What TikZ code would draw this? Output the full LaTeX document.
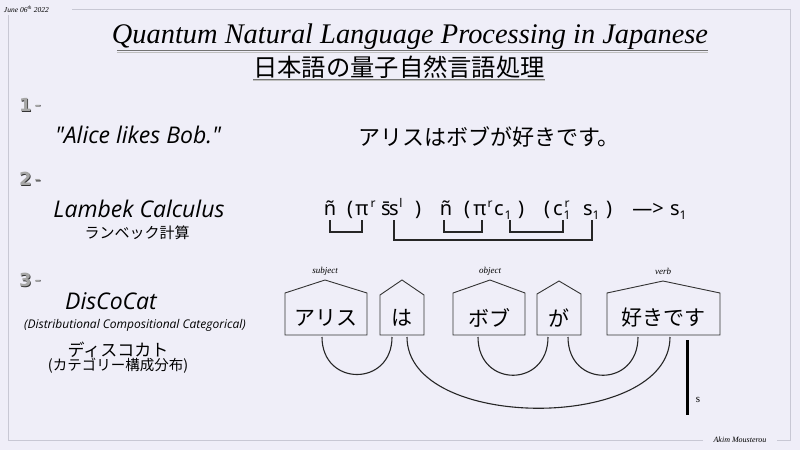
\documentclass[tikz,border=0pt]{standalone}
\usepackage{fontspec}
\setmainfont{Liberation Serif}
\newfontfamily\uifont{Open Sans}
\newfontfamily\jpfont{Noto Sans CJK JP}
\newfontfamily\mathsans{Noto Sans}
\newfontfamily\numfont{DejaVu Sans}
\definecolor{bg}{RGB}{239,238,248}
\definecolor{framec}{RGB}{200,200,212}
\newcommand{\fs}[1]{\fontsize{#1}{#1}\selectfont}
\tikzset{
  lbl/.style={inner sep=0pt, outer sep=0pt},
  numlbl/.style={lbl, font=\numfont\bfseries\fs{18}},
  engit/.style={lbl, font=\uifont\itshape\fs{23}},
  jptext/.style={lbl, font=\jpfont\fs{21}},
  sym/.style={lbl, anchor=base, font=\mathsans\fs{20}},
  supsym/.style={lbl, anchor=base, font=\mathsans\fs{12}},
  bracket/.style={line width=1.4pt, black!85},
  house/.style={draw=black!80, line width=0.9pt, fill=bg, line join=miter},
  wire/.style={draw=black!85, line width=1.1pt},
  tag/.style={lbl, font=\itshape\fs{9}},
}
\begin{document}
\begin{tikzpicture}[x=1pt,y=-1pt]
\fill[bg] (0,0) rectangle (800,450);
\useasboundingbox (0,0) rectangle (800,450);
% frame
\draw[framec, line width=0.8pt] (72,9) -- (790,9) -- (790,440) -- (777,440);
\draw[framec, line width=0.8pt] (703,440) -- (8,440) -- (8,15);
\node[lbl, anchor=west, font=\itshape\fs{7.5}] (date) at (4,9) {June 06\textsuperscript{th} 2022};
\node[lbl, font=\itshape\fs{8}] (author) at (740,440) {Akim Mousterou};
% titles
\node[lbl, font=\itshape\fs{28.4}] (title) at (410,37) {Quantum Natural Language Processing in Japanese};
\draw[black!55, line width=0.9pt] ([yshift=-1pt]title.south west) ++(5,0) -- ([yshift=-1pt]title.south east);
\draw[black!25, line width=0.9pt] ([yshift=-2.2pt]title.south west) ++(5,0) -- ([yshift=-2.2pt]title.south east);
\node[lbl, font=\jpfont\fs{24.3}] (jtitle) at (399,67) {日本語の量子自然言語処理};
\draw[black!55, line width=0.9pt] ([yshift=-1pt]jtitle.south west) -- ([yshift=-1pt]jtitle.south east);
\draw[black!25, line width=0.9pt] ([yshift=-2.2pt]jtitle.south west) -- ([yshift=-2.2pt]jtitle.south east);
% section numbers
\foreach \n/\yy in {1/105, 2/179, 3/280}{
  \node[numlbl, text=black!80, anchor=west] at (19.8,\yy+0.8) {\n\,\raisebox{0.25ex}{\fs{12}–}};
  \node[numlbl, text=black!35, anchor=west] (num\n) at (19,\yy) {\n\,\raisebox{0.25ex}{\fs{12}–}};
}
% section 1
\node[engit] (alice) at (138,135) {"Alice likes Bob."};
\node[jptext, font=\jpfont\fs{22}] (jsent) at (489,137) {アリスはボブが好きです。};
% section 2
\node[engit] (lambek) at (139,209) {Lambek Calculus};
\node[lbl, font=\jpfont\fs{15}] (lambekjp) at (137,233) {ランベック計算};
% formula
\node[sym] (n1) at (330,215) {ñ};
\node[sym] at (350,215) {(};
\node[sym] (pi1) at (362,215) {π};
\node[supsym] at (373,207) {r};
\node[sym] (sb) at (386,215) {s\char"0304};
\node[sym] (s2) at (394,215) {s};
\node[supsym] at (401,207) {l};
\node[sym] at (418,215) {)};
\node[sym] (n2) at (446,215) {ñ};
\node[sym] at (467,215) {(};
\node[sym] (pi2) at (480,215) {π};
\node[supsym] at (490,207) {r};
\node[sym] (c1) at (499,215) {c};
\node[supsym] (c1i) at (508,219) {1};
\node[sym] at (521,215) {)};
\node[sym] at (547,215) {(};
\node[sym] (c2) at (558,215) {c};
\node[supsym] at (567,207) {r};
\node[supsym] (c2i) at (567,219) {1};
\node[sym] (s3) at (588,215) {s};
\node[supsym] (s3i) at (596,219) {1};
\node[sym] at (609,215) {)};
\node[sym] (arrow) at (648,215) {—>};
\node[sym] (sout) at (675,215) {s};
\node[supsym] at (683,219) {1};
% brackets
\draw[bracket] (n1.base) ++(0,5) -- ++(0,12) -| ([yshift=-5pt]pi1.base);
\draw[bracket] (s2.base) ++(0,5) -- ++(0,20) -| ([yshift=-5pt,xshift=4pt]s3.base);
\draw[bracket] ([xshift=-2pt]n2.base) ++(0,5) -- ++(0,12) -| ([yshift=-5pt,xshift=2pt]pi2.base);
\draw[bracket] ([xshift=2pt]c1i.base) ++(0,1) -- ++(0,12) -| ([yshift=-5pt,xshift=5pt]c2.base);
% section 3
\node[engit] (disco) at (111,301) {DisCoCat};
\node[lbl, font=\uifont\itshape\fs{12}] (discofull) at (135,325) {(Distributional Compositional Categorical)};
\node[lbl, font=\jpfont\fs{17}] (discojp) at (118,350) {ディスコカト};
\node[lbl, font=\jpfont\fs{14.5}] (discojp2) at (118,366) {(カテゴリー構成分布)};
% boxes
\draw[house] (285,335) -- (285,293) -- (325,280) -- (367,293) -- (367,335) -- cycle;
\draw[house] (380,335) -- (380,295) -- (402,280) -- (424,295) -- (424,335) -- cycle;
\draw[house] (453,335) -- (453,293) -- (490,280) -- (525,293) -- (525,335) -- cycle;
\draw[house] (537,335) -- (537,294) -- (559,281) -- (581,294) -- (581,335) -- cycle;
\draw[house] (607,335) -- (607,293) -- (663,281) -- (720,293) -- (720,335) -- cycle;
\node[jptext] (w1) at (326,318) {アリス};
\node[jptext] (w2) at (402,318) {は};
\node[jptext] (w3) at (489,318) {ボブ};
\node[jptext] (w4) at (559,318) {が};
\node[jptext] (w5) at (663,318) {好きです};
\node[tag] (t1) at (325,271) {subject};
\node[tag] (t2) at (490,271) {object};
\node[tag] (t3) at (663,271) {verb};
% wires
\coordinate (a1) at (322,337); \coordinate (a2) at (392,337);
\coordinate (a3) at (407,337); \coordinate (a4) at (670,337);
\coordinate (a5) at (478,337); \coordinate (a6) at (548,337);
\coordinate (a7) at (568,337); \coordinate (a8) at (638,337);
\draw[wire] (a1) .. controls (322,387) and (392,387) .. (a2);
\draw[wire] (a3) .. controls (407,432) and (670,432) .. (a4);
\draw[wire] (a5) .. controls (478,388) and (548,388) .. (a6);
\draw[wire] (a7) .. controls (568,388) and (638,388) .. (a8);
\coordinate (o1) at (687,340); \coordinate (o2) at (687,415);
\draw[black, line width=3pt] (o1) -- (o2);
\node[lbl, font=\fs{11}] (slbl) at (698,400) {s};
\end{tikzpicture}
\end{document}
